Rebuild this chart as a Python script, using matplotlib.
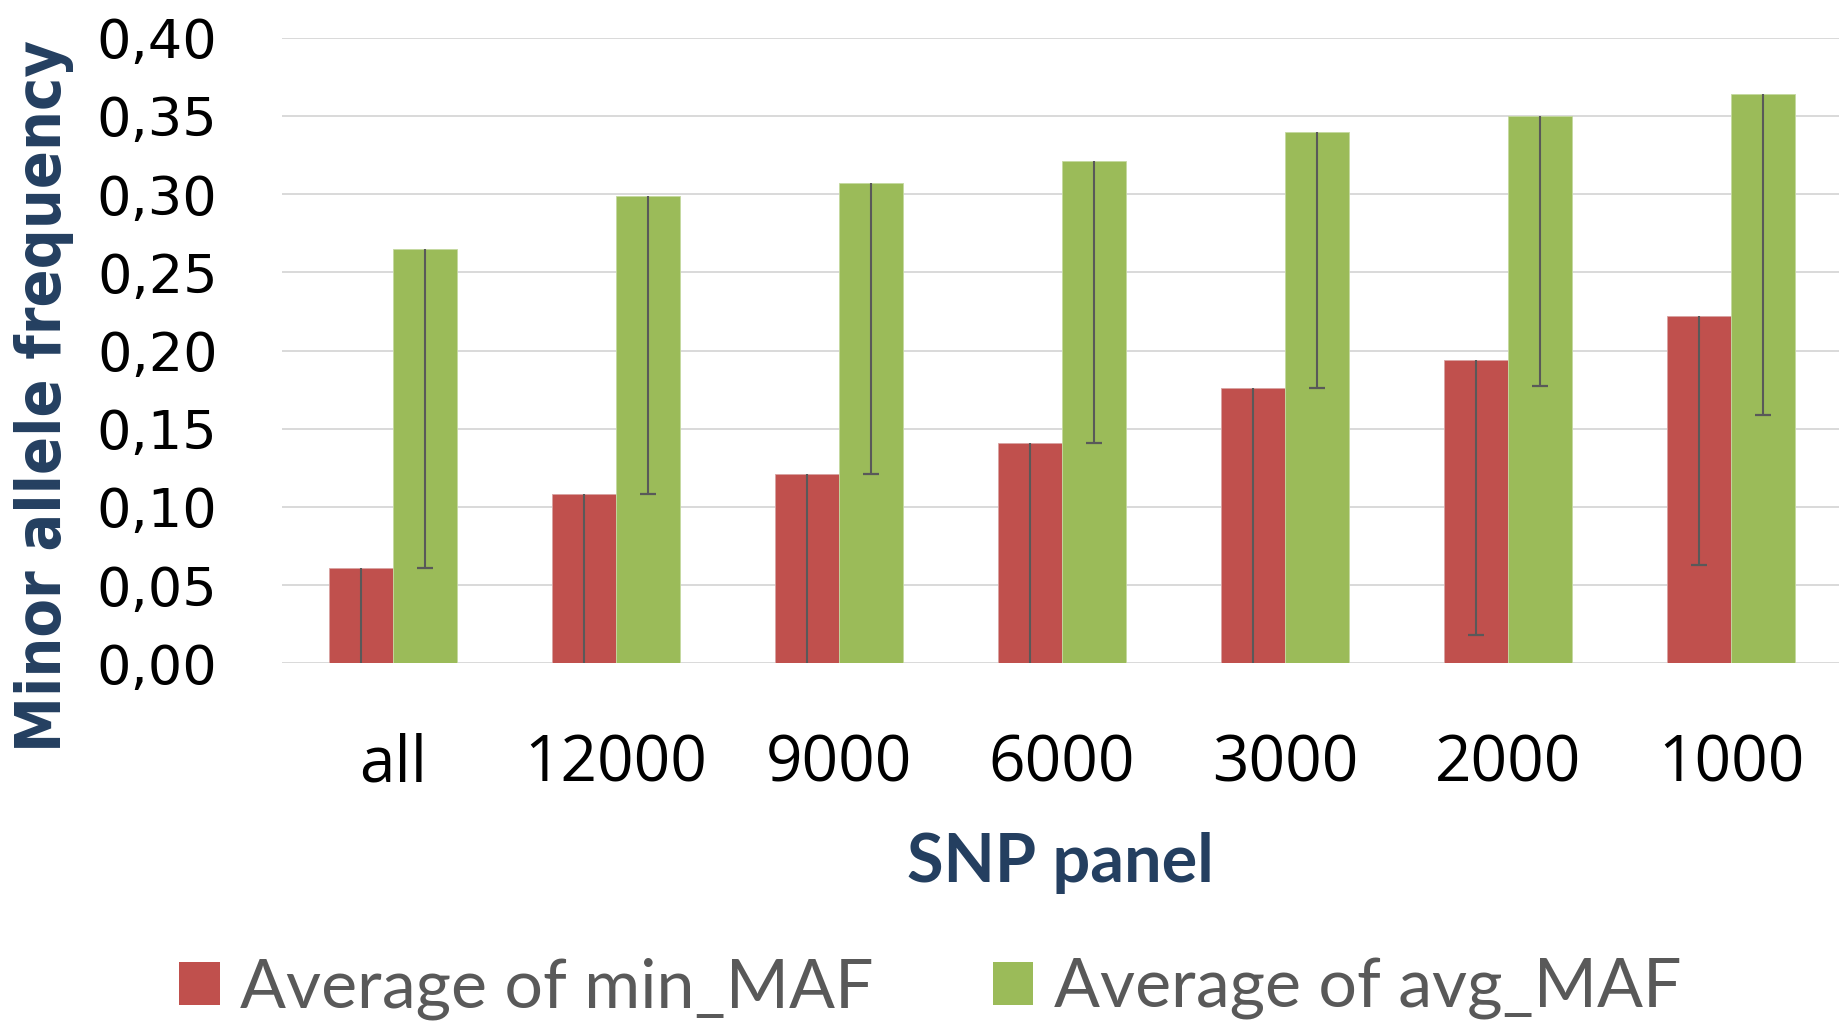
import matplotlib
matplotlib.use("Agg")
import matplotlib.pyplot as plt
import numpy as np
from matplotlib.patches import Patch

# ---- data ----
categories = ['all', '12000', '9000', '6000', '3000', '2000', '1000']
min_maf = [0.061, 0.108, 0.121, 0.141, 0.176, 0.194, 0.222]
avg_maf = [0.265, 0.299, 0.307, 0.321, 0.340, 0.350, 0.364]
min_maf_low = [0.0, 0.0, 0.0, 0.0, 0.0, 0.018, 0.063]
avg_maf_low = [0.061, 0.108, 0.121, 0.141, 0.176, 0.177, 0.159]
y_ticks = [0.00, 0.05, 0.10, 0.15, 0.20, 0.25, 0.30, 0.35, 0.40]
series_names = ['Average of min_MAF', 'Average of avg_MAF']

RED = '#C0504D'
GREEN = '#9BBB59'
ERR = '#595959'
NAVY = '#243F60'

W, H = 1839, 1022
fig = plt.figure(figsize=(W / 100, H / 100), dpi=100)
left, right = 281.5, 1842.5
top, bottom = 37.7, 663.3
ax = fig.add_axes([left / W, 1 - bottom / H, (right - left) / W, (bottom - top) / H])

x = np.arange(len(categories))
bw = 0.285
ax.bar(x - bw / 2, min_maf, width=bw, color=RED, edgecolor='#D9A3A2', linewidth=0.6, zorder=2)
ax.bar(x + bw / 2, avg_maf, width=bw, color=GREEN, edgecolor='#C4D9A0', linewidth=0.6, zorder=2)

# minus-only error bars with caps at the low end
for offs, vals, lows in [(-bw / 2, min_maf, min_maf_low), (bw / 2, avg_maf, avg_maf_low)]:
    xs = x + offs
    ax.vlines(xs, lows, vals, color=ERR, linewidth=1.5, zorder=3)
    lo = np.array(lows)
    m = lo > 0
    ax.plot(xs[m], lo[m], linestyle='none', marker='_', markersize=12,
            markeredgewidth=1.6, color=ERR, zorder=3)

ax.set_xlim(-0.5, len(categories) - 0.5)
ax.set_ylim(0, 0.40)
ax.set_yticks(y_ticks)
ax.set_yticklabels([f"{v:.2f}".replace('.', ',') for v in y_ticks],
                   fontsize=39, family='DejaVu Sans', color='black')
ax.set_xticks(x)
ax.set_xticklabels(categories, fontsize=46, family='Open Sans', color='black')
ax.tick_params(axis='both', length=0)
ax.tick_params(axis='y', pad=46)
ax.tick_params(axis='x', pad=50)
for s in ax.spines.values():
    s.set_visible(False)
ax.yaxis.grid(True, color='#D9D9D9', linewidth=1.4)
ax.set_axisbelow(True)

ax.set_ylabel('Minor allele frequency', fontsize=45, fontweight='bold',
              family='DejaVu Sans', fontstretch='condensed', color=NAVY)
ax.yaxis.set_label_coords((44 - left) / (right - left), (bottom - 396) / (bottom - top))
ax.yaxis.label.set_va('center')

ax.set_xlabel('SNP panel', fontsize=48, fontweight='bold', family='Lato', color=NAVY)
ax.xaxis.set_label_coords((1060 - left) / (right - left), (bottom - 881.7) / (bottom - top))
ax.xaxis.label.set_va('baseline')

handles = [Patch(facecolor=RED, edgecolor='none'), Patch(facecolor=GREEN, edgecolor='none')]
leg = fig.legend(handles, series_names, loc='lower center', ncol=2,
                 bbox_to_anchor=(930 / W, 0.002), frameon=False,
                 prop={'family': 'Lato', 'size': 49},
                 handlelength=0.6, handleheight=0.6, handletextpad=0.3,
                 columnspacing=1.75, borderaxespad=0, borderpad=0)
for t in leg.get_texts():
    t.set_color('#595959')

fig.savefig('out.png', dpi=100)
